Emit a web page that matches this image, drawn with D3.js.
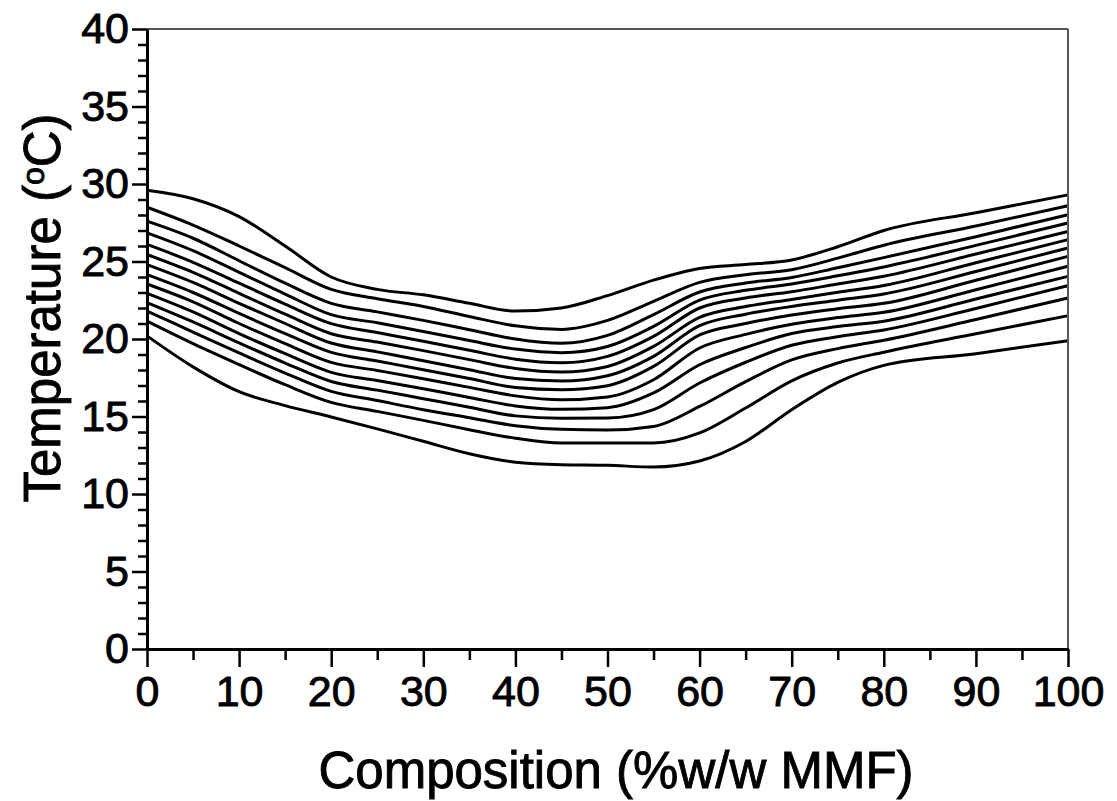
<!DOCTYPE html>
<html>
<head>
<meta charset="utf-8">
<script src="https://cdn.jsdelivr.net/npm/d3@7"></script>
<style>
  body { margin: 0; background: #fff; }
  text { font-family: "Liberation Sans", Arial, sans-serif; fill: #000; stroke: #000; stroke-width: 0.9px; }
</style>
</head>
<body>
<div id="container"></div>
<script>
const width = 1117
const height = 801
const margin = {left: 147, top: 29, right: 49, bottom: 152}
const g_width = width - margin.left - margin.right
const g_height = height - margin.top - margin.bottom

// composition (%w/w MMF) where the curves were read
const composition = [0, 5, 10, 15, 20, 25, 30, 35, 40, 45, 50, 55, 60, 65, 70, 75, 80, 90, 100]

// temperature (°C) of each curve, top to bottom
const curve1  = [29.6, 29.05, 27.9, 26.0, 24.0, 23.2, 22.85, 22.3, 21.8, 22.0, 22.8, 23.8, 24.55, 24.8, 25.1, 25.95, 27.0, 28.15, 29.3]
const curve2  = [28.5, 27.35, 26.0, 24.6, 23.2, 22.6, 22.1, 21.45, 20.85, 20.62, 21.2, 22.43, 23.65, 24.15, 24.47, 25.22, 26.05, 27.29, 28.6]
const curve3  = [27.6, 26.5, 25.05, 23.6, 22.3, 21.75, 21.2, 20.6, 20.0, 19.72, 20.23, 21.57, 23.03, 23.61, 23.97, 24.6, 25.25, 26.6, 28.02]
const curve4  = [26.85, 25.7, 24.3, 22.9, 21.57, 21.05, 20.49, 19.9, 19.35, 19.12, 19.52, 20.81, 22.51, 23.14, 23.55, 24.08, 24.65, 26.04, 27.48]
const curve5  = [26.1, 24.95, 23.6, 22.25, 20.99, 20.42, 19.85, 19.27, 18.7, 18.47, 18.88, 20.17, 22.0, 22.65, 23.05, 23.55, 24.05, 25.48, 26.94]
const curve6  = [25.45, 24.3, 22.95, 21.6, 20.34, 19.8, 19.25, 18.67, 18.1, 17.87, 18.23, 19.52, 21.4, 22.1, 22.55, 23.02, 23.45, 24.92, 26.41]
const curve7  = [24.8, 23.65, 22.3, 21.0, 19.74, 19.17, 18.6, 18.02, 17.45, 17.29, 17.63, 18.88, 20.86, 21.6, 22.1, 22.5, 22.9, 24.35, 25.87]
const curve8  = [24.15, 23.0, 21.65, 20.35, 19.14, 18.58, 18.02, 17.45, 16.87, 16.73, 16.99, 18.23, 20.26, 21.0, 21.55, 21.95, 22.3, 23.79, 25.33]
const curve9  = [23.55, 22.4, 21.0, 19.7, 18.49, 17.97, 17.44, 16.88, 16.33, 16.08, 16.26, 17.37, 19.42, 20.3, 20.95, 21.38, 21.72, 23.18, 24.69]
const curve10 = [22.95, 21.75, 20.35, 19.05, 17.85, 17.32, 16.79, 16.23, 15.68, 15.46, 15.57, 16.52, 18.34, 19.45, 20.35, 20.8, 21.15, 22.58, 24.04]
const curve11 = [22.35, 21.1, 19.75, 18.45, 17.26, 16.7, 16.15, 15.6, 15.04, 14.88, 14.9, 15.44, 17.16, 18.5, 19.6, 20.15, 20.58, 21.97, 23.44]
const curve12 = [21.8, 20.45, 19.1, 17.8, 16.62, 16.03, 15.44, 14.92, 14.4, 14.17, 14.13, 14.36, 15.65, 17.25, 18.65, 19.38, 19.92, 21.26, 22.65]
const curve13 = [21.15, 19.7, 18.35, 17.05, 15.91, 15.33, 14.75, 14.15, 13.6, 13.29, 13.29, 13.29, 13.94, 15.55, 17.3, 18.45, 19.15, 20.34, 21.5]
const curve14 = [20.2, 18.2, 16.6, 15.7, 14.97, 14.2, 13.4, 12.6, 12.05, 11.89, 11.85, 11.74, 12.13, 13.39, 15.44, 17.2, 18.3, 19.05, 19.89]

const curves = [curve1, curve2, curve3, curve4, curve5, curve6, curve7,
                curve8, curve9, curve10, curve11, curve12, curve13, curve14]

// tick values
const xMajor = d3.range(0, 101, 10)
const xMinor = d3.range(5, 100, 10)
const yMajor = d3.range(0, 41, 5)
const yMinor = d3.range(0, 41, 1).filter(d => d % 5 !== 0)

const svg = d3.select("#container")
  .append("svg")
  .attr("width", width)
  .attr("height", height)

const g = svg.append("g")
  .attr("transform", `translate(${margin.left},${margin.top})`)

const scale_x = d3.scaleLinear().domain([0, 100]).range([0, g_width])
const scale_y = d3.scaleLinear().domain([0, 40]).range([g_height, 0])

// curves
const line_generator = d3.line()
  .x((d, i) => scale_x(composition[i]))
  .y(d => scale_y(d))
  .curve(d3.curveMonotoneX)

g.selectAll(".curve")
  .data(curves)
  .join("path")
  .attr("class", "curve")
  .attr("d", line_generator)
  .attr("fill", "none")
  .attr("stroke", "#000")
  .attr("stroke-width", 3)

// top and right frame (thin, greyish)
g.append("line")
  .attr("x1", scale_x(0)).attr("x2", scale_x(100))
  .attr("y1", scale_y(40)).attr("y2", scale_y(40))
  .attr("stroke", "#555").attr("stroke-width", 2)
g.append("line")
  .attr("x1", scale_x(100)).attr("x2", scale_x(100))
  .attr("y1", scale_y(40)).attr("y2", scale_y(0))
  .attr("stroke", "#555").attr("stroke-width", 2)

// minor ticks
g.append("g")
  .attr("transform", `translate(0,${g_height})`)
  .call(d3.axisBottom(scale_x).tickValues(xMinor).tickSize(11).tickFormat(""))
  .call(a => a.select(".domain").remove())
g.append("g")
  .call(d3.axisLeft(scale_y).tickValues(yMinor).tickSize(9).tickFormat(""))
  .call(a => a.select(".domain").remove())

// major axes
const x_axis = d3.axisBottom(scale_x).tickValues(xMajor).tickSize(18).tickSizeOuter(0).tickPadding(8)
const y_axis = d3.axisLeft(scale_y).tickValues(yMajor).tickSize(15).tickSizeOuter(0).tickPadding(3)

g.append("g")
  .attr("transform", `translate(0,${g_height})`)
  .call(x_axis)
g.append("g")
  .call(y_axis)

g.selectAll(".tick line").attr("stroke", "#000").attr("stroke-width", 2.5)
g.selectAll(".domain").attr("stroke", "#000").attr("stroke-width", 3)
g.selectAll(".tick text")
  .attr("font-size", 43)
  .attr("font-family", '"Liberation Sans", Arial, sans-serif')

// axis titles
svg.append("text")
  .attr("x", 616)
  .attr("y", 788)
  .attr("text-anchor", "middle")
  .attr("font-size", 51)
  .text("Composition (%w/w MMF)")

const yTitle = svg.append("text")
  .attr("transform", "translate(60,308) rotate(-90)")
  .attr("text-anchor", "middle")
  .attr("font-size", 51)
yTitle.append("tspan").text("Temperature (")
yTitle.append("tspan").attr("font-size", 32).attr("dy", -16).text("o")
yTitle.append("tspan").attr("dy", 16).text("C)")
</script>
</body>
</html>
